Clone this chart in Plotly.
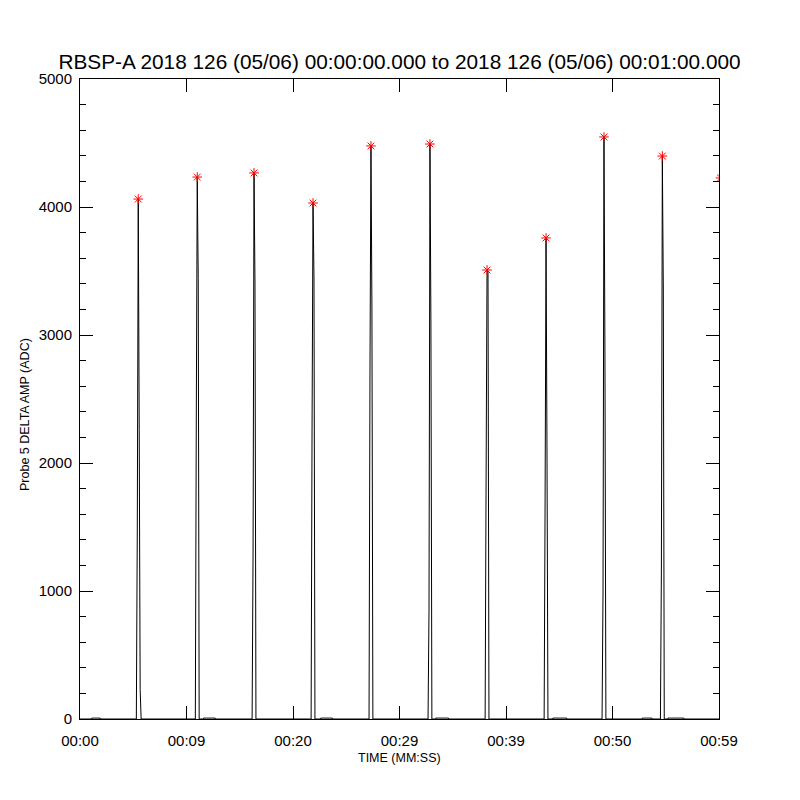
import plotly.graph_objects as go

# ---- data ----
title_text = "RBSP-A 2018 126 (05/06) 00:00:00.000 to 2018 126 (05/06) 00:01:00.000"
x_tick_vals = [0, 10, 20, 30, 40, 50, 60]
x_tick_text = ["00:00", "00:09", "00:20", "00:29", "00:39", "00:50", "00:59"]
y_tick_vals = [0, 1000, 2000, 3000, 4000, 5000]

# spike peak times (s) and amplitudes (ADC)
peak_t = [5.47, 11.01, 16.34, 21.88, 27.32, 32.86, 38.22, 43.76, 49.20, 54.68]
peak_v = [4062, 4234, 4266, 4031, 4477, 4492, 3508, 3758, 4547, 4398]
# sample before the peak (rising edge) and after the peak (falling edge)
rise_v = [1500, 2375, 1273, 2273, 2766, 852, 1867, 1688, 992, 1164]
fall_v = [2260, 3440, 3406, 3445, 3227, 3086, 3490, 2062, 2844, 3367]
tail_v = [230, 0, 0, 0, 0, 0, 0, 0, 0, 0]
sample_dt = 0.09  # instrument sample spacing (s)

# red markers: detected peaks (last one just past the plotted window)
mark_t = peak_t + [60.14]
mark_v = peak_v + [4227]

# small low-level plateaus near the baseline
dash_start = [1.1, 11.6, 22.6, 33.4, 44.4, 52.8, 55.2]
dash_end = [1.9, 12.7, 23.7, 34.6, 45.7, 53.7, 56.7]
dash_level = [7, 7, 7, 7, 7, 7, 7]

# ---- assemble the time series ----
pts = [(0.0, 0.0), (60.0, 0.0)]
for t, p, r, f, tl in zip(peak_t, peak_v, rise_v, fall_v, tail_v):
    pts += [(t - 2 * sample_dt, 0), (t - sample_dt, r), (t, p),
            (t + sample_dt, f), (t + 2 * sample_dt, tl), (t + 3 * sample_dt, 0)]
for s, e, lv in zip(dash_start, dash_end, dash_level):
    pts += [(s, 0), (s + 0.001, lv), (e - 0.001, lv), (e, 0)]
pts.sort(key=lambda p: p[0])
ts = [p[0] for p in pts]
vs = [p[1] for p in pts]

fig = go.Figure()
fig.add_trace(go.Scatter(x=ts, y=vs, mode="lines",
                         line=dict(color="black", width=1), showlegend=False))
fig.add_trace(go.Scatter(x=mark_t, y=mark_v, mode="markers",
                         marker=dict(symbol="asterisk-open", size=8, color="red",
                                     line=dict(color="red", width=1)),
                         showlegend=False))

font = "Liberation Sans, Arial, sans-serif"
fig.update_layout(
    width=800, height=800,
    paper_bgcolor="white", plot_bgcolor="white",
    margin=dict(l=72, r=89, t=71, b=89),
    font=dict(family=font, color="black"),
    title=dict(text=title_text, x=(399.5 - 8) / 800, xanchor="center",
               y=1 - (62 - 8) / 800, yanchor="middle",
               font=dict(size=20.8, family=font, color="black")),
    xaxis=dict(range=[0, 60], tickvals=x_tick_vals, ticktext=x_tick_text,
               ticks="inside", ticklen=13, tickwidth=1, tickcolor="black",
               showline=True, linecolor="black", linewidth=1, mirror="allticks",
               showgrid=False, zeroline=False, tickfont=dict(size=15),
               ticklabelstandoff=8),
    yaxis=dict(range=[0, 5000], tickvals=y_tick_vals,
               ticks="inside", ticklen=13, tickwidth=1, tickcolor="black",
               minor=dict(dtick=200, ticks="inside", ticklen=6, tickcolor="black"),
               showline=True, linecolor="black", linewidth=1, mirror="allticks",
               showgrid=False, zeroline=False, tickfont=dict(size=15),
               ticklabelstandoff=4),
    annotations=[
        dict(text="TIME (MM:SS)", xref="paper", yref="paper", x=0.5, y=-39 / 640,
             xanchor="center", yanchor="middle", showarrow=False,
             font=dict(size=12.5)),
        dict(text="Probe 5 DELTA AMP (ADC)", xref="paper", yref="paper",
             x=-55 / 639, y=(719 - 415) / 640, xanchor="center", yanchor="middle",
             textangle=-90, showarrow=False, font=dict(size=12.5)),
    ],
)

fig.write_html("out.html")
